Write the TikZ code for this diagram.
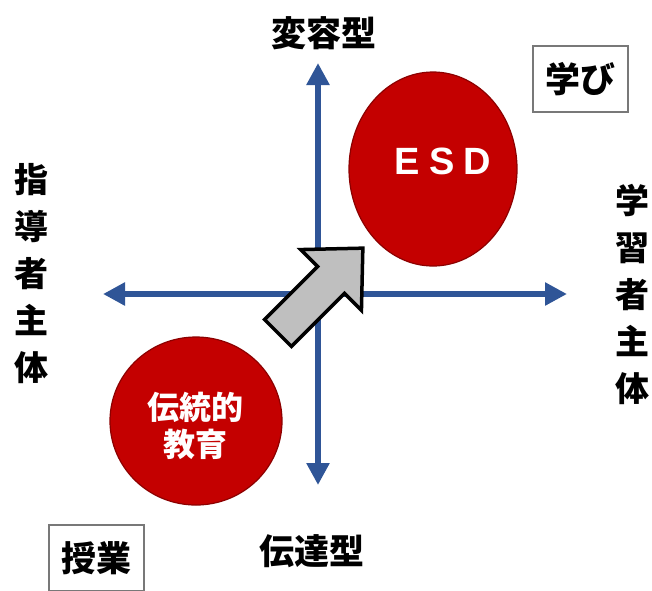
\documentclass[tikz,border=0pt]{standalone}
\usepackage{fontspec}
\newfontfamily\cjk{Noto Sans CJK JP}
\newfontfamily\lat{Liberation Sans}
\usetikzlibrary{arrows.meta,shapes.geometric}
\definecolor{axisblue}{RGB}{47,85,151}
\definecolor{esdred}{RGB}{196,0,0}
\definecolor{darkred}{RGB}{140,0,0}
\definecolor{arrowgray}{RGB}{191,191,191}
\definecolor{boxgray}{RGB}{120,120,120}
\begin{document}
\begin{tikzpicture}[x=1pt,y=1pt,
  axisline/.style={draw=axisblue, line width=6pt,
    {Triangle[width=22pt,length=22pt]}-{Triangle[width=22pt,length=22pt]}},
  blob/.style={ellipse, fill=esdred, draw=darkred, line width=1.2pt, inner sep=0pt},
  lbl/.style={font=\cjk\bfseries\fontsize{35}{40}\selectfont, inner sep=0pt, text=black},
  vlbl/.style={font=\cjk\bfseries\fontsize{34}{47}\selectfont, inner sep=0pt, align=center, text=black},
  boxlbl/.style={lbl, draw=boxgray, line width=1.3pt, minimum width=95pt, minimum height=66pt},
  intext/.style={font=\cjk\bfseries\fontsize{32}{37}\selectfont, text=white, inner sep=0pt, align=center},
  esdtext/.style={font=\lat\bfseries\fontsize{38}{40}\selectfont, text=white, inner sep=0pt},
  blockarrow/.style={fill=arrowgray, draw=black, line width=3.5pt, line join=miter}
]
\useasboundingbox (0,0) rectangle (652,-590);

% axes
\coordinate (top) at (318,-63);
\coordinate (bottom) at (318,-485);
\coordinate (left) at (103,-294);
\coordinate (right) at (567,-294);
\draw[axisline] (bottom) -- (top);
\draw[axisline] (left) -- (right);

% ellipses
\node[blob, minimum width=168pt, minimum height=194pt] (esd) at (433,-169) {};
\node[blob, minimum width=172pt, minimum height=168pt] (trad) at (196,-421) {};
\node[esdtext] (esdt) at (443,-161) {E\hspace{9pt}S\hspace{9pt}D};
\node[intext] (tradt) at (195,-426) {伝統的\\教育};

% block arrow
\begin{scope}[shift={(278,-333)}, rotate=45]
  \draw[blockarrow] (0,-19) -- (75,-19) -- (75,-43) -- (120,0) -- (75,43) -- (75,19) -- (0,19) -- cycle;
\end{scope}

% labels
\node[lbl] (henyo) at (324,-33) {変容型};
\node[lbl] (dentatsu) at (312,-551) {伝達型};
\node[boxlbl] (manabi) at (580.5,-79) {学び};
\node[boxlbl] (jugyo) at (96.5,-558) {授業};
\node[vlbl] (shido) at (31,-274) {指\\導\\者\\主\\体};
\node[vlbl] (gakushu) at (632,-294) {学\\習\\者\\主\\体};
\end{tikzpicture}
\end{document}
